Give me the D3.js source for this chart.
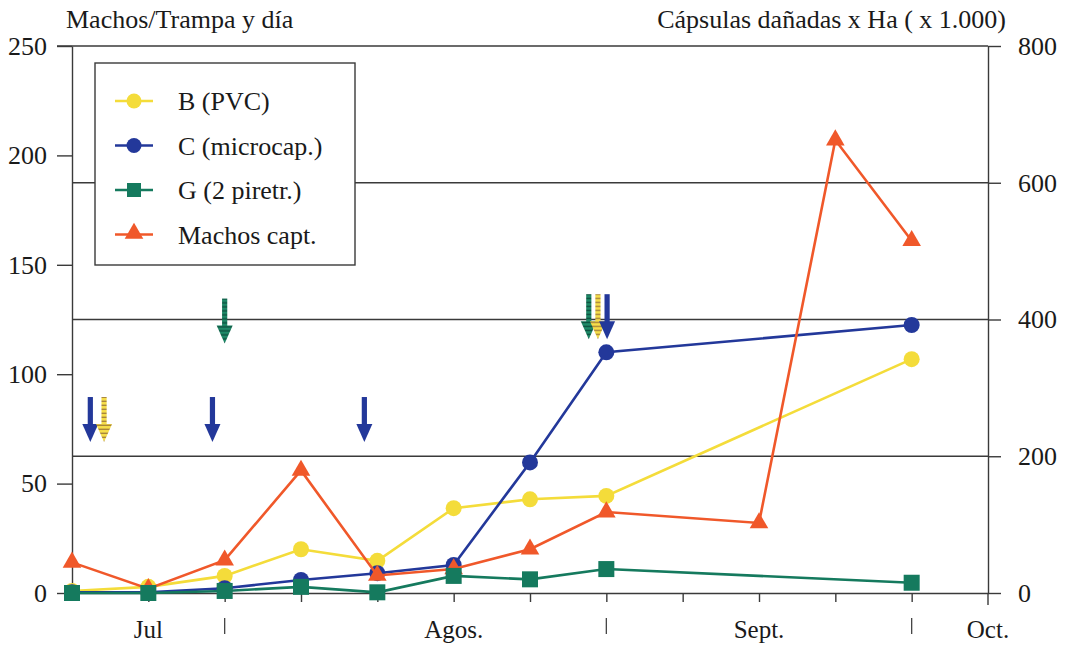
<!DOCTYPE html>
<html>
<head>
<meta charset="utf-8">
<script src="https://cdn.jsdelivr.net/npm/d3@7/dist/d3.min.js"></script>
<style>
  html, body { margin: 0; padding: 0; background: #fff; }
  svg { display: block; font-family: "Liberation Serif", "Times New Roman", serif; }
</style>
</head>
<body>
<svg id="chart" width="1071" height="647"></svg>
<script>
// Weekly sampling dates (index 0 = first week of July ... 12 = start of October)
const weeks = d3.range(0, 13);

// Damaged capsules per hectare (x 1.000) – right axis
const seriesB = [[0, 3], [1, 9], [2, 25], [3, 64], [4, 47], [5, 124], [6, 137], [7, 142], [11, 342]];
const seriesC = [[0, 1], [1, 1], [2, 7], [3, 19], [4, 29], [5, 41], [6, 191], [7, 352], [11, 392]];
const seriesG = [[0, 0], [1, 0], [2, 3], [3, 9], [4, 1], [5, 25], [6, 20], [7, 35], [11, 15]];
// Males per trap and day – left axis
const seriesMachos = [[0, 14], [1, 2], [2, 15], [3, 56], [4, 8], [5, 11], [6, 20], [7, 37], [9, 32], [10, 207], [11, 161]];

const leftTicks = [0, 50, 100, 150, 200, 250];
const rightTicks = [0, 200, 400, 600, 800];
const monthLabels = [["Jul", 1], ["Agos.", 5], ["Sept.", 9], ["Oct.", 12]];
const monthBreaks = [2, 7, 11];

// Treatment applications: [treatment, week position, tip level on left axis]
const applications = [
  ["C", 0.24, 69], ["B", 0.42, 69],
  ["C", 1.84, 69], ["G", 2.0, 114],
  ["C", 3.83, 69],
  ["G", 6.77, 116], ["B", 6.89, 116], ["C", 7.01, 116]
];

const legendNames = ["B (PVC)", "C (microcap.)", "G (2 piretr.)", "Machos capt."];

const colors = { B: "#f4dc3a", C: "#23389a", G: "#157a5e", M: "#f0582a" };
const gridColor = "#3a3a3a";
const FS = 26;

const svg = d3.select("#chart");
const x = d3.scaleLinear().domain([0, 12]).range([72, 988]);
const yL = d3.scaleLinear().domain([0, 250]).range([593, 46]);
const yR = d3.scaleLinear().domain([0, 800]).range([593, 46]);

// Patterns for the dotted treatment arrows
const defs = svg.append("defs");
function stripePattern(id, base, stripe) {
  const p = defs.append("pattern").attr("id", id).attr("patternUnits", "userSpaceOnUse")
    .attr("width", 6).attr("height", 4);
  p.append("rect").attr("width", 6).attr("height", 4).attr("fill", base);
  p.append("rect").attr("y", 2.6).attr("width", 6).attr("height", 1.4).attr("fill", stripe);
}
stripePattern("stripeB", "#f6de4a", "#a8853a");
stripePattern("stripeG", "#1f8a68", "#0c4f3d");

// Horizontal grid lines (right axis levels)
svg.append("g").selectAll("line").data(rightTicks.filter(d => d > 0)).join("line")
  .attr("x1", d => d === 800 ? 57 : x(0)).attr("x2", x(12))
  .attr("y1", d => yR(d)).attr("y2", d => yR(d))
  .attr("stroke", gridColor).attr("stroke-width", 1.4);

// Left axis
const gL = svg.append("g").attr("transform", `translate(${x(0)},0)`)
  .call(d3.axisLeft(yL).tickValues(leftTicks).tickSize(15).tickSizeOuter(0).tickPadding(10));
gL.selectAll("text").attr("font-size", FS).attr("fill", "#1a1a1a").attr("font-family", "Liberation Serif");
gL.selectAll("line, path").attr("stroke", gridColor).attr("stroke-width", 1.4);

// Right axis
const gR = svg.append("g").attr("transform", `translate(${x(12)},0)`)
  .call(d3.axisRight(yR).tickValues(rightTicks).tickSize(13).tickSizeOuter(0).tickPadding(17));
gR.selectAll("text").attr("font-size", FS).attr("fill", "#1a1a1a").attr("font-family", "Liberation Serif");
gR.selectAll("line, path").attr("stroke", gridColor).attr("stroke-width", 1.4);
gR.append("line").attr("x1", 0).attr("x2", 0).attr("y1", yR(0)).attr("y2", yR(0) + 12)
  .attr("stroke", gridColor).attr("stroke-width", 1.4);

// Bottom axis with weekly ticks
const gB = svg.append("g").attr("transform", `translate(0,${yL(0)})`)
  .call(d3.axisBottom(x).tickValues(weeks.slice(1, 12)).tickSize(9).tickSizeOuter(0).tickFormat(""));
gB.selectAll("line, path").attr("stroke", gridColor).attr("stroke-width", 1.4);

// Month separators and labels
svg.append("g").selectAll("line").data(monthBreaks).join("line")
  .attr("x1", d => x(d)).attr("x2", d => x(d)).attr("y1", 618).attr("y2", 634)
  .attr("stroke", "#444").attr("stroke-width", 1.3);
svg.append("g").selectAll("text").data(monthLabels).join("text")
  .attr("x", d => x(d[1])).attr("y", 638).attr("text-anchor", "middle")
  .attr("font-size", 25).attr("fill", "#1a1a1a").text(d => d[0]);

// Axis titles
svg.append("text").attr("x", 66).attr("y", 28).attr("font-size", FS).attr("fill", "#1a1a1a")
  .text("Machos/Trampa y día");
svg.append("text").attr("x", 1006).attr("y", 28).attr("text-anchor", "end").attr("font-size", FS)
  .attr("fill", "#1a1a1a").text("Cápsulas dañadas x Ha ( x 1.000)");

// Treatment arrows
const arrowFill = { B: "url(#stripeB)", C: colors.C, G: "url(#stripeG)" };
const arrows = svg.append("g").selectAll("g").data(applications).join("g")
  .attr("transform", d => `translate(${x(d[1])},${yL(d[2])})`);
arrows.append("rect").attr("x", -2.6).attr("y", -45).attr("width", 5.2).attr("height", 30)
  .attr("fill", d => arrowFill[d[0]]);
arrows.append("path").attr("d", "M-8,-18 L8,-18 L0,0 Z")
  .attr("fill", d => arrowFill[d[0]]);

// Series lines and markers
const lineR = d3.line().x(d => x(d[0])).y(d => yR(d[1]));
const lineL = d3.line().x(d => x(d[0])).y(d => yL(d[1]));

function drawCircles(data, color) {
  svg.append("path").datum(data).attr("d", lineR).attr("fill", "none")
    .attr("stroke", color).attr("stroke-width", 2.6);
  svg.append("g").selectAll("circle").data(data).join("circle")
    .attr("cx", d => x(d[0])).attr("cy", d => yR(d[1])).attr("r", 8).attr("fill", color);
}
drawCircles(seriesB, colors.B);
drawCircles(seriesC, colors.C);

const triangle = d3.symbol().type(d3.symbolTriangle).size(150);
svg.append("path").datum(seriesMachos).attr("d", lineL).attr("fill", "none")
  .attr("stroke", colors.M).attr("stroke-width", 2.6);
svg.append("g").selectAll("path").data(seriesMachos).join("path")
  .attr("d", triangle).attr("transform", d => `translate(${x(d[0])},${yL(d[1])})`)
  .attr("fill", colors.M);

svg.append("path").datum(seriesG).attr("d", lineR).attr("fill", "none")
  .attr("stroke", colors.G).attr("stroke-width", 2.6);
svg.append("g").selectAll("rect").data(seriesG).join("rect")
  .attr("x", d => x(d[0]) - 8).attr("y", d => yR(d[1]) - 8).attr("width", 16).attr("height", 16)
  .attr("fill", colors.G);

// Legend
const lg = svg.append("g").attr("transform", "translate(95,63)");
lg.append("rect").attr("width", 260).attr("height", 202).attr("fill", "#fff")
  .attr("stroke", gridColor).attr("stroke-width", 1.4);
const keys = ["B", "C", "G", "M"];
const items = lg.selectAll("g.item").data(keys).join("g").attr("class", "item")
  .attr("transform", (d, i) => `translate(0,${38 + i * 44.5})`);
items.append("line").attr("x1", 20).attr("x2", 58).attr("stroke", d => colors[d]).attr("stroke-width", 2.6);
items.each(function (d) {
  const g = d3.select(this);
  if (d === "B" || d === "C") g.append("circle").attr("cx", 39).attr("r", 7.5).attr("fill", colors[d]);
  else if (d === "G") g.append("rect").attr("x", 32).attr("y", -7).attr("width", 14).attr("height", 14).attr("fill", colors[d]);
  else g.append("path").attr("d", triangle).attr("transform", "translate(39,-1)").attr("fill", colors[d]);
});
items.append("text").attr("x", 83).attr("y", 9).attr("font-size", FS).attr("fill", "#1a1a1a")
  .text((d, i) => legendNames[i]);
</script>
</body>
</html>
